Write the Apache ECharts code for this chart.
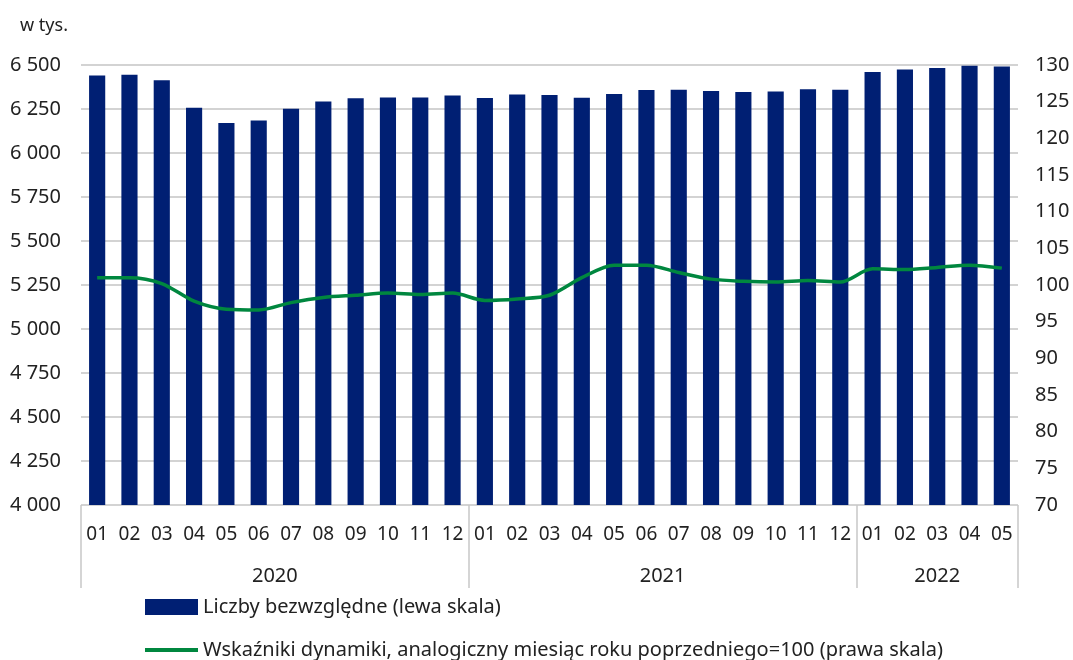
<!DOCTYPE html>
<html>
<head>
<meta charset="utf-8">
<script src="https://cdn.jsdelivr.net/npm/echarts@6/dist/echarts.min.js"></script>
<style>
html,body{margin:0;padding:0;background:#fff;}
#chart{width:1073px;height:660px;}
</style>
</head>
<body>
<div id="chart"></div>
<script>
// ---- data ----
const periods = [
  '2020-01','2020-02','2020-03','2020-04','2020-05','2020-06','2020-07','2020-08','2020-09','2020-10','2020-11','2020-12',
  '2021-01','2021-02','2021-03','2021-04','2021-05','2021-06','2021-07','2021-08','2021-09','2021-10','2021-11','2021-12',
  '2022-01','2022-02','2022-03','2022-04','2022-05'
];
const absoluteValues = [
  6440,6445,6413,6257,6170,6184,6252,6293,6311,6316,6316,6327,
  6312,6333,6330,6314,6335,6358,6360,6352,6347,6349,6362,6360,
  6460,6475,6483,6496,6491
];
const dynamicsIndex = [
  101.0,101.0,100.2,97.8,96.7,96.6,97.6,98.3,98.6,98.9,98.7,98.9,
  97.9,98.1,98.6,101.0,102.7,102.7,101.7,100.8,100.5,100.4,100.6,100.4,
  102.2,102.1,102.4,102.7,102.3
];
const seriesNames = ['Liczby bezwzględne (lewa skala)', 'Wskaźniki dynamiki, analogiczny miesiąc roku poprzedniego=100 (prawa skala)'];
const unitLabel = 'w tys.';

// ---- derived ----
const monthLabels = periods.map(p => p.split('-')[1]);
const yearGroups = [];
periods.forEach((p, i) => {
  const y = p.split('-')[0];
  const last = yearGroups[yearGroups.length - 1];
  if (last && last.year === y) last.count++;
  else yearGroups.push({year: y, start: i, count: 1});
});
const groupStarts = yearGroups.map(g => g.start);
const fmtThousands = v => String(v).replace(/\B(?=(\d{3})+(?!\d))/g, ' ');

const FONT = "'Noto Sans', sans-serif";
const TXT = '#222';
const chart = echarts.init(document.getElementById('chart'), null, {renderer: 'canvas'});
chart.setOption({
  animation: false,
  backgroundColor: '#fff',
  textStyle: {fontFamily: FONT},
  title: {
    text: unitLabel, left: 15, top: 12,
    textStyle: {fontFamily: FONT, fontSize: 18, fontWeight: 'normal', color: TXT}
  },
  grid: {left: 81, right: 55, top: 65, bottom: 155, containLabel: false},
  legend: [
    {
      left: 145, top: 597, itemWidth: 53, itemHeight: 16, padding: 0,
      textStyle: {fontFamily: FONT, fontSize: 20, color: TXT},
      data: [{name: seriesNames[0], icon: 'rect'}]
    },
    {
      left: 145, top: 640, itemWidth: 53, itemHeight: 4, padding: 0,
      textStyle: {fontFamily: FONT, fontSize: 20, color: TXT},
      data: [{name: seriesNames[1], icon: 'rect', itemStyle: {color: '#00873f'}}]
    }
  ],
  xAxis: [
    {
      type: 'category', data: monthLabels, boundaryGap: true, position: 'bottom',
      axisLine: {show: false},
      axisTick: {show: true, length: 83, interval: (idx) => groupStarts.includes(idx),
                 lineStyle: {color: '#c8c8c8', width: 1.5}},
      axisLabel: {interval: 0, margin: 20, fontFamily: FONT, fontSize: 19, color: TXT}
    },
    {
      type: 'value', min: 0, max: periods.length, interval: 0.5, position: 'bottom',
      axisLine: {show: false}, axisTick: {show: false}, splitLine: {show: false},
      axisLabel: {
        margin: 61, fontFamily: FONT, fontSize: 20, color: TXT, showMinLabel: true, showMaxLabel: true,
        formatter: (v) => {
          const g = yearGroups.find(g => Math.abs(g.start + g.count / 2 - v) < 1e-6);
          return g ? g.year : '';
        }
      }
    }
  ],
  yAxis: [
    {
      type: 'value', min: 4000, max: 6500, interval: 250, position: 'left',
      axisLine: {show: false}, axisTick: {show: false},
      splitLine: {show: true, lineStyle: {color: '#c4c4c4', width: 1.5}},
      axisLabel: {margin: 20, fontFamily: FONT, fontSize: 20, color: TXT, formatter: fmtThousands}
    },
    {
      type: 'value', min: 70, max: 130, interval: 5, position: 'right',
      axisLine: {show: false}, axisTick: {show: false}, splitLine: {show: false},
      axisLabel: {margin: 17, fontFamily: FONT, fontSize: 20, color: TXT}
    }
  ],
  series: [
    {
      name: seriesNames[0], type: 'bar', xAxisIndex: 0, yAxisIndex: 0,
      data: absoluteValues, barWidth: '50%',
      itemStyle: {color: '#001f73'}
    },
    {
      name: seriesNames[1], type: 'line', xAxisIndex: 0, yAxisIndex: 1,
      data: dynamicsIndex, symbol: 'none', smooth: 0.3,
      lineStyle: {color: '#00873f', width: 3.5},
      itemStyle: {color: '#00873f'}
    }
  ]
});
</script>
</body>
</html>
